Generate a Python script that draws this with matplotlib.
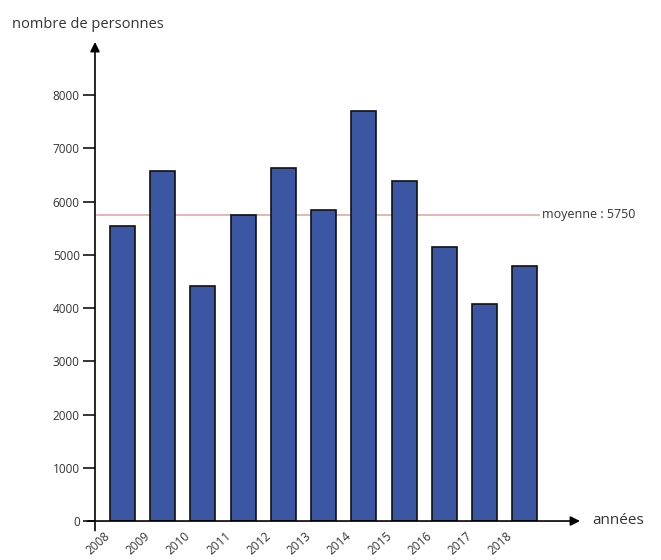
import matplotlib
matplotlib.use('Agg')
from matplotlib import pyplot as plt
from matplotlib.transforms import ScaledTranslation
import numpy as np

plt.rcParams['font.family'] = ['Open Sans', 'DejaVu Sans']

years = ['2008', '2009', '2010', '2011', '2012', '2013', '2014', '2015', '2016', '2017', '2018']
persons = [5550, 6580, 4410, 5750, 6640, 5850, 7700, 6380, 5150, 4080, 4790]
mean_value = 5750
yticks = [0, 1000, 2000, 3000, 4000, 5000, 6000, 7000, 8000]

fig = plt.figure(figsize=(6.61, 5.6), dpi=100)
ax = fig.add_axes([0.1437, 0.0696, 0.8775 - 0.1437, 0.925 - 0.0696])

x = np.arange(len(years))
ax.bar(x, persons, width=0.62, color='#3b57a3', edgecolor='#111111', linewidth=1.2, zorder=3)

ax.set_xlim(-0.683, 11.37)
ax.set_ylim(0, 9000)

# mean line
ax.plot([-0.64, 10.35], [mean_value, mean_value], color='#e0aaa6', linewidth=1.2, zorder=2)
ax.text(10.42, mean_value, 'moyenne : 5750', ha='left', va='center', fontsize=9,
        color='#333333')

# axes with arrows
for s in ax.spines.values():
    s.set_visible(False)
ax.annotate('', xy=(1, 0), xytext=(-0.015, 0), xycoords='axes fraction',
            arrowprops=dict(arrowstyle='-|>', color='black', lw=1.2, mutation_scale=14,
                            shrinkA=0, shrinkB=0))
ax.annotate('', xy=(0, 1), xytext=(0, -0.02), xycoords='axes fraction',
            arrowprops=dict(arrowstyle='-|>', color='black', lw=1.2, mutation_scale=14,
                            shrinkA=0, shrinkB=0))

ax.set_yticks(yticks)
ax.set_yticklabels([str(v) for v in yticks], fontsize=8.5, color='#333333')
ax.tick_params(axis='y', length=9, width=1.1, pad=2, color='black')

ax.set_xticks(x)
ax.set_xticklabels(years, rotation=42, ha='right', va='top', fontsize=8.5, color='#333333')
ax.tick_params(axis='x', length=0, pad=6)
for lab in ax.get_xticklabels():
    lab.set_transform(lab.get_transform() + ScaledTranslation(-0.1, 0, fig.dpi_scale_trans))

fig.text(12 / 661, 1 - 25 / 560, 'nombre de personnes', ha='left', va='center', fontsize=10.5,
         color='#333333')
fig.text(592 / 661, 1 - 521 / 560, 'années', ha='left', va='center', fontsize=11, color='#333333')

fig.savefig('out.png', dpi=100)
